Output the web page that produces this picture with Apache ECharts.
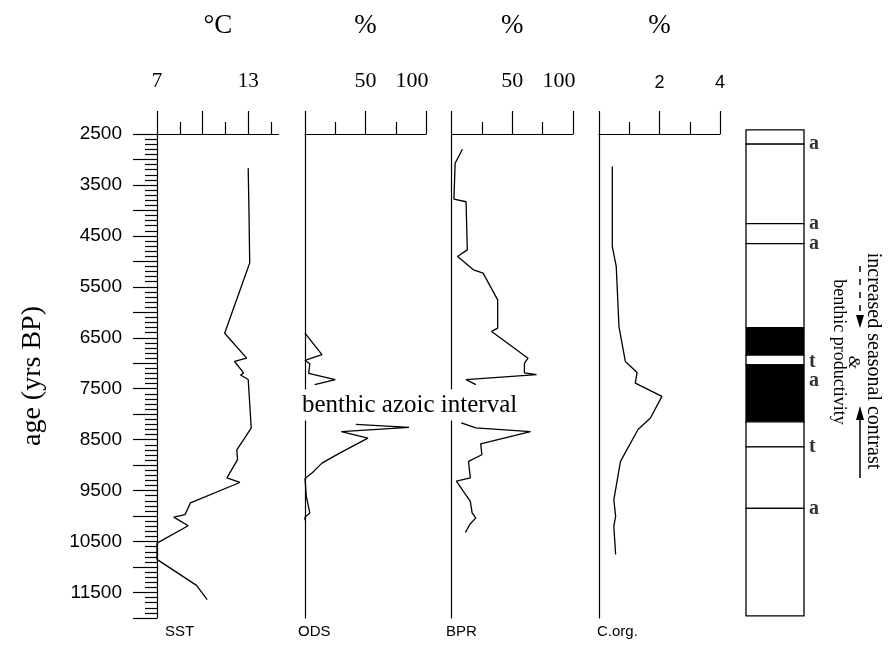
<!DOCTYPE html>
<html>
<head>
<meta charset="UTF-8">
<title></title>
<script src="https://cdn.jsdelivr.net/npm/echarts@6.0.0/dist/echarts.min.js"></script>
<style>
html, body { margin: 0; padding: 0; background: #fff; }
#main { width: 890px; height: 650px; }
</style>
</head>
<body>
<div id="main"></div>
<script>
// ages in yrs BP (null = gap, benthic azoic interval)
var sstAge = [3170, 4000, 5030, 5200, 6410, 6900, 6965, 7190, 7230, 7320, 8270, 8500, 8700, 8890, 9250, 9340, 9740, 9970, 10020, 10190, 10530, 10850, 11360, 11640];
var sstVal = [13.0, 13.05, 13.1, 12.9, 11.45, 12.9, 12.1, 12.7, 12.5, 13.0, 13.2, 12.7, 12.25, 12.3, 11.6, 12.45, 9.2, 8.85, 8.1, 9.05, 7.0, 7.0, 9.6, 10.3];

var odsAge = [6410, 6830, 6945, 7010, 7200, 7320, 7420, 7800, 8200, 8260, 8340, 8470, 8760, 8960, 9150, 9260, 9600, 9940, 10020, 10080];
var odsVal = [0, 14, 0, 4, 3, 25, 8, null, 42, 86, 30, 52, 29, 14, 6, 0, 1, 4, 0, 0];

var bprAge = [2800, 3075, 3780, 3830, 4775, 4905, 5165, 5230, 5755, 6310, 6375, 6900, 7000, 7190, 7225, 7320, 7420, 7800, 8170, 8270, 8340, 8580, 8795, 8925, 9250, 9315, 9710, 9940, 10035, 10165, 10320];
var bprVal = [9, 3, 2, 12, 13, 5, 18, 26, 38, 38, 33, 63, 60, 60, 70, 12, 20, null, 8, 20, 65, 24, 25, 14, 15.5, 4, 15.5, 17, 20, 15, 11.5];

var corgAge = [3140, 4710, 5100, 6280, 6965, 7180, 7390, 7650, 8075, 8300, 8925, 9680, 10000, 10200, 10755];
var corgVal = [0.44, 0.44, 0.57, 0.66, 0.87, 1.26, 1.2, 2.08, 1.7, 1.29, 0.71, 0.49, 0.55, 0.49, 0.55];

// lithology column: top age, bottom age, black (1) or white (0)
var litTop = [2420, 2700, 4260, 4650, 6300, 6840, 7030, 8150, 8640, 9850];
var litBottom = [2700, 4260, 4650, 6300, 6840, 7030, 8150, 8640, 9850, 11960];
var litBlack = [0, 0, 0, 0, 1, 0, 1, 0, 0, 0];
var markAge = [2700, 4260, 4650, 6980, 7350, 8640, 9850];
var markText = ['a', 'a', 'a', 't', 'a', 't', 'a'];

var panelNames = ['SST', 'ODS', 'BPR', 'C.org.'];

var serif = '"Liberation Serif", "Times New Roman", serif';
var sans = '"Liberation Sans", Arial, sans-serif';
var ink = '#000';

var myChart = echarts.init(document.getElementById('main'));

var gTop = 134, gHeight = 484;
var grids = [
    { left: 157, top: gTop, width: 121.6, height: gHeight },
    { left: 305, top: gTop, width: 121, height: gHeight },
    { left: 451.5, top: gTop, width: 121.5, height: gHeight },
    { left: 599, top: gTop, width: 121, height: gHeight },
    { left: 746, top: gTop, width: 58, height: gHeight },
    { left: 157, top: gTop, width: 121.6, height: gHeight } // minor ticks of SST
];

function segments(ages, vals) {
    var out = [], cur = [];
    for (var i = 0; i < ages.length; i++) {
        if (vals[i] === null) {
            if (cur.length) out.push(cur);
            cur = [];
        } else {
            cur.push([vals[i], ages[i]]);
        }
    }
    if (cur.length) out.push(cur);
    return out;
}

function plainY(i, showLine) {
    return {
        gridIndex: i, type: 'value', inverse: true, min: 2500, max: 12000, interval: 500,
        axisLine: { show: showLine, onZero: false, lineStyle: { color: ink, width: 1.2 } },
        axisTick: { show: false }, axisLabel: { show: false }, splitLine: { show: false }
    };
}

var tickStyle = { color: ink, width: 1.2 };

var yAxes = [
    {
        gridIndex: 0, type: 'value', inverse: true, min: 2500, max: 12000, interval: 500,
        axisLine: { show: true, onZero: false, lineStyle: tickStyle },
        axisTick: { show: true, length: 24, lineStyle: tickStyle },
        minorTick: { show: true, splitNumber: 5, length: 12, lineStyle: tickStyle },
        axisLabel: {
            margin: 35, color: ink, fontFamily: sans, fontSize: 19,
            formatter: function (v) { return ((v - 2500) % 1000 === 0 && v < 12000) ? String(v) : ''; }
        },
        splitLine: { show: false }
    },
    plainY(1, true), plainY(2, true), plainY(3, true), plainY(4, false), plainY(5, false)
];

var pctLabel = function (v) {
    if (v === 50) return '50';
    if (v === 100) return '{s|100}';
    return '';
};
var pctRich = { s: { fontFamily: serif, fontSize: 22, color: ink, padding: [0, 28, 0, 0] } };

function unitName(text) {
    return {
        name: text, nameLocation: 'middle', nameGap: 95,
        nameTextStyle: { fontFamily: serif, fontSize: 27, color: ink }
    };
}

var xAxes = [
    Object.assign({
        gridIndex: 0, type: 'value', position: 'top', min: 7, max: 15,
        axisLine: { onZero: false, lineStyle: tickStyle },
        axisTick: { length: 23, customValues: [7, 10, 13], lineStyle: tickStyle },
        axisLabel: { customValues: [7, 13], margin: 42, fontFamily: serif, fontSize: 21, color: ink },
        splitLine: { show: false }
    }, unitName('°C')),
    Object.assign({
        gridIndex: 1, type: 'value', position: 'top', min: 0, max: 100, interval: 50,
        axisLine: { onZero: false, lineStyle: tickStyle },
        axisTick: { length: 23, lineStyle: tickStyle },
        minorTick: { show: true, splitNumber: 2, length: 12, lineStyle: tickStyle },
        axisLabel: { margin: 42, fontFamily: serif, fontSize: 22, color: ink, formatter: pctLabel, rich: pctRich },
        splitLine: { show: false }
    }, unitName('%')),
    Object.assign({
        gridIndex: 2, type: 'value', position: 'top', min: 0, max: 100, interval: 50,
        axisLine: { onZero: false, lineStyle: tickStyle },
        axisTick: { length: 23, lineStyle: tickStyle },
        minorTick: { show: true, splitNumber: 2, length: 12, lineStyle: tickStyle },
        axisLabel: { margin: 42, fontFamily: serif, fontSize: 22, color: ink, formatter: pctLabel, rich: pctRich },
        splitLine: { show: false }
    }, unitName('%')),
    Object.assign({
        gridIndex: 3, type: 'value', position: 'top', min: 0, max: 4, interval: 2,
        axisLine: { onZero: false, lineStyle: tickStyle },
        axisTick: { length: 23, lineStyle: tickStyle },
        minorTick: { show: true, splitNumber: 2, length: 12, lineStyle: tickStyle },
        axisLabel: {
            margin: 42, fontFamily: sans, fontSize: 18, color: ink,
            formatter: function (v) { return v === 0 ? '' : String(v); }
        },
        splitLine: { show: false }
    }, unitName('%')),
    { gridIndex: 4, type: 'value', min: 0, max: 1, show: false },
    {
        gridIndex: 5, type: 'value', position: 'top', min: 7, max: 15,
        axisLine: { show: false, onZero: false },
        axisTick: { length: 12, customValues: [8.5, 11.5, 14.5], lineStyle: tickStyle },
        axisLabel: { show: false },
        splitLine: { show: false }
    }
];

var series = [];
function addCurve(ages, vals, idx) {
    segments(ages, vals).forEach(function (seg) {
        series.push({
            type: 'line', xAxisIndex: idx, yAxisIndex: idx, data: seg,
            symbol: 'none', clip: false,
            lineStyle: { color: ink, width: 1.3 }
        });
    });
}
addCurve(sstAge, sstVal, 0);
addCurve(odsAge, odsVal, 1);
addCurve(bprAge, bprVal, 2);
addCurve(corgAge, corgVal, 3);

var litData = litTop.map(function (t, i) { return [t, litBottom[i], litBlack[i]]; });
series.push({
    type: 'custom', xAxisIndex: 4, yAxisIndex: 4, clip: false,
    encode: { y: [0, 1] },
    data: litData,
    renderItem: function (params, api) {
        var p0 = api.coord([0, api.value(0)]);
        var p1 = api.coord([1, api.value(1)]);
        return {
            type: 'rect',
            shape: { x: p0[0], y: p0[1], width: p1[0] - p0[0], height: p1[1] - p0[1] },
            style: { fill: api.value(2) ? ink : '#fff', stroke: ink, lineWidth: 1.3 }
        };
    }
});

series.push({
    type: 'scatter', xAxisIndex: 4, yAxisIndex: 4, clip: false,
    symbolSize: 0,
    data: markAge.map(function (a, i) { return [1, a, markText[i]]; }),
    label: {
        show: true, position: 'right', distance: 5,
        formatter: function (p) { return p.data[2]; },
        fontFamily: serif, fontWeight: 'bold', fontSize: 20, color: ink
    }
});

var graphics = [
    {
        type: 'text', x: 300, y: 405, z: 100,
        style: {
            text: 'benthic azoic interval', fontFamily: serif, fontSize: 25, fill: ink,
            align: 'left', verticalAlign: 'middle', backgroundColor: '#fff', padding: [3, 2]
        }
    },
    {
        type: 'text', x: 33, y: 376, rotation: Math.PI / 2,
        style: { text: 'age (yrs BP)', fontFamily: serif, fontSize: 28, fill: ink, align: 'center', verticalAlign: 'middle' }
    },
    {
        type: 'text', x: 873, y: 361, rotation: -Math.PI / 2,
        style: { text: 'increased seasonal contrast', fontFamily: serif, fontSize: 20, fill: ink, align: 'center', verticalAlign: 'middle' }
    },
    {
        type: 'text', x: 839, y: 352, rotation: -Math.PI / 2,
        style: { text: 'benthic productivity', fontFamily: serif, fontSize: 18, fill: ink, align: 'center', verticalAlign: 'middle' }
    },
    {
        type: 'text', x: 853, y: 362, rotation: -Math.PI / 2,
        style: { text: '&', fontFamily: serif, fontStyle: 'italic', fontSize: 17, fill: ink, align: 'center', verticalAlign: 'middle' }
    },
    {
        type: 'line', shape: { x1: 860, y1: 266, x2: 860, y2: 318 },
        style: { stroke: ink, lineWidth: 1.5, lineDash: [6, 7] }
    },
    { type: 'polygon', shape: { points: [[856, 315], [864, 315], [860, 328]] }, style: { fill: ink } },
    {
        type: 'line', shape: { x1: 860, y1: 478, x2: 860, y2: 417 },
        style: { stroke: ink, lineWidth: 1.5 }
    },
    { type: 'polygon', shape: { points: [[856, 420], [864, 420], [860, 406]] }, style: { fill: ink } }
];

var nameX = [165, 298, 446, 597];
panelNames.forEach(function (n, i) {
    graphics.push({
        type: 'text', x: nameX[i], y: 632,
        style: { text: n, fontFamily: sans, fontSize: 15, fill: ink, align: 'left', verticalAlign: 'middle' }
    });
});

var option = {
    animation: false,
    backgroundColor: '#fff',
    grid: grids,
    xAxis: xAxes,
    yAxis: yAxes,
    series: series,
    graphic: graphics
};
myChart.setOption(option);
</script>
</body>
</html>
